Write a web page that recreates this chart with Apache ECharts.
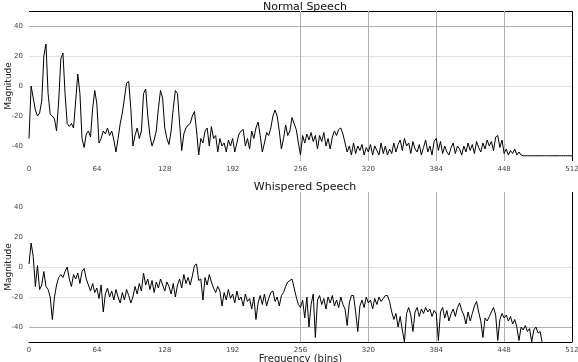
<!DOCTYPE html>
<html>
<head>
<meta charset="utf-8">
<script src="https://cdn.jsdelivr.net/npm/echarts@6/dist/echarts.min.js"></script>
<style>html,body{margin:0;padding:0;background:#fff}#c{width:578px;height:362px}</style>
</head>
<body>
<div id="c"></div>
<script>
// Bin step of the sampled values (x = index * BIN_STEP)
const BIN_STEP = 2;
const xTicks = [0, 64, 128, 192, 256, 320, 384, 448, 512];
const yTicks = [-40, -20, 0, 20, 40];

// Normal speech magnitude, bins 0,2,4,...,512
const normalSpeech = [
-35,0,-8,-16,-20,-18,-10,20,28,-5,-19,-20,-22,-30,-10,18,22,-5,-25,-27,
-25,-28,-10,8,-5,-35,-41,-32,-30,-34,-15,-3,-12,-38,-35,-30,-32,-28,-33,-30,
-36,-44,-35,-25,-18,-8,2,3,-15,-40,-33,-28,-35,-30,-5,-2,-20,-33,-40,-36,
-30,-15,-3,-8,-28,-35,-39,-30,-15,-3,-5,-25,-43,-32,-28,-26,-25,-20,-17,-30,
-46,-35,-38,-30,-28,-40,-27,-35,-33,-44,-35,-40,-38,-44,-36,-40,-35,-44,-38,-32,
-30,-29,-40,-35,-42,-30,-35,-28,-24,-33,-44,-38,-31,-33,-28,-20,-16,-20,-30,-42,
-35,-26,-33,-30,-21,-25,-29,-38,-46,-33,-38,-32,-36,-31,-37,-33,-42,-33,-37,-31,
-40,-35,-42,-34,-30,-33,-29,-28,-32,-38,-44,-40,-46,-38,-45,-40,-43,-39,-46,-41,
-44,-39,-46,-40,-43,-46,-38,-45,-40,-46,-42,-45,-38,-44,-39,-36,-43,-35,-40,-38,
-45,-37,-42,-44,-39,-46,-41,-36,-44,-40,-46,-37,-35,-43,-37,-45,-40,-44,-46,-41,
-38,-45,-40,-42,-46,-40,-44,-38,-43,-39,-45,-37,-41,-44,-38,-42,-36,-40,-37,-43,
-34,-33,-41,-36,-45,-42,-46,-43,-45,-42,-46,-44,-46,-46.5,-46.5,-46.5,-46.5,-46.5,-46.5,-46.5,
-46.5,-46.5,-46.5,-46.5,-46.5,-46.5,-46.5,-46.5,-46.5,-46.5,-46.5,-46.5,-46.5,-46.5,-46.5,-46.5,-46.5
];

// Whispered speech magnitude, bins 0,2,4,...,484
const whisperedSpeech = [
2,16,7,-13,1,-15,-12,-3,-13,-15,-20,-35,-20,-12,-7,-5,-7,-3,0,-8,
-13,-5,-8,-4,-11,-3,-1,-8,-12,-16,-11,-17,-14,-21,-12,-30,-18,-14,-20,-16,
-22,-15,-20,-24,-17,-22,-15,-19,-24,-20,-13,-18,-11,-16,-4,-12,-8,-15,-9,-17,
-10,-14,-8,-12,-16,-10,-13,-18,-11,-20,-12,-8,-14,-5,-11,-7,-12,-6,1,2,
-9,-8,-22,-7,-12,-5,-10,-14,-17,-13,-16,-26,-17,-22,-15,-21,-18,-24,-16,-22,
-20,-26,-18,-23,-21,-28,-20,-35,-24,-19,-25,-18,-26,-21,-17,-16,-23,-20,-26,-19,
-17,-13,-10,-9,-8,-14,-20,-25,-27,-22,-34,-20,-40,-25,-18,-47,-22,-19,-25,-21,
-28,-20,-24,-19,-26,-22,-27,-20,-25,-28,-39,-24,-19,-19,-30,-43,-26,-22,-27,-20,
-24,-22,-28,-21,-25,-20,-23,-21,-19,-19,-23,-30,-35,-31,-40,-33,-42,-50,-31,-27,
-32,-43,-30,-27,-33,-28,-31,-27,-30,-28,-33,-29,-31,-49,-30,-27,-34,-29,-36,-31,
-28,-33,-27,-24,-29,-32,-38,-30,-36,-31,-26,-23,-30,-36,-47,-34,-36,-33,-30,-27,
-32,-49,-35,-31,-34,-32,-36,-33,-38,-35,-40,-49,-40,-42,-39,-43,-41,-50,-42,-40,
-44,-43,-51
];

const toPairs = arr => arr.map((v, i) => [i * BIN_STEP, v]);

const TRANSP = 'rgba(0,0,0,0)';
const LIGHT = '#e3e3e3';
const GRAY = '#b0b0b0';
const BLACK = '#000';
const FONT = 'DejaVu Sans';

const yLabelFmt = v => (yTicks.indexOf(v) >= 0 ? String(v) : '');

function xAxis(gridIndex, withName, axisLineShow) {
  return {
    type: 'value', gridIndex, min: 0, max: 512, interval: 64,
    axisLine: { show: axisLineShow, onZero: false, lineStyle: { color: BLACK, width: 1 } },
    axisTick: { show: false },
    axisLabel: { show: true, fontSize: 7, color: '#444', fontFamily: FONT, margin: 5,
      showMinLabel: true, showMaxLabel: true,
      formatter: v => (xTicks.indexOf(v) >= 0 ? String(v) : '') },
    splitLine: { show: true, lineStyle: { width: 1,
      color: [TRANSP, TRANSP, TRANSP, TRANSP, GRAY, GRAY, GRAY, GRAY, BLACK] } },
    name: withName ? 'Frequency (bins)' : '',
    nameLocation: 'middle', nameGap: 12, nameMoveOverlap: false,
    nameTextStyle: { fontSize: 10, color: '#222', fontFamily: FONT }
  };
}

function yAxis(gridIndex, colors) {
  return {
    type: 'value', gridIndex, min: -50, max: 50, interval: 10,
    axisLine: { show: false }, axisTick: { show: false },
    axisLabel: { fontSize: 7, color: '#444', fontFamily: FONT, margin: 6, formatter: yLabelFmt,
      showMinLabel: true, showMaxLabel: true },
    splitLine: { show: true, lineStyle: { width: 1, color: colors } },
    name: 'Magnitude', nameLocation: 'middle', nameGap: 16, nameMoveOverlap: false,
    nameTextStyle: { fontSize: 9, color: '#222', fontFamily: FONT }
  };
}

const chart = echarts.init(document.getElementById('c'), null, { renderer: 'canvas' });
chart.setOption({
  animation: false,
  backgroundColor: '#fff',
  title: [
    { text: 'Normal Speech', left: 300, top: -3, textAlign: 'center',
      textStyle: { fontSize: 11, fontWeight: 'normal', color: '#111', fontFamily: FONT } },
    { text: 'Whispered Speech', left: 300, top: 177, textAlign: 'center',
      textStyle: { fontSize: 11, fontWeight: 'normal', color: '#111', fontFamily: FONT } }
  ],
  grid: [
    { left: 29, right: 6, top: 11, height: 150, containLabel: false, outerBoundsMode: 'none' },
    { left: 29, right: 6, top: 192, height: 150, containLabel: false, outerBoundsMode: 'none' }
  ],
  xAxis: [xAxis(0, false, false), xAxis(1, true, true)],
  yAxis: [
    yAxis(0, [TRANSP, TRANSP, TRANSP, TRANSP, TRANSP, LIGHT, TRANSP, LIGHT, TRANSP, GRAY, BLACK]),
    yAxis(1, [TRANSP, GRAY, TRANSP, LIGHT, TRANSP, LIGHT, TRANSP, TRANSP, TRANSP, TRANSP, TRANSP])
  ],
  series: [
    { type: 'line', xAxisIndex: 0, yAxisIndex: 0, data: toPairs(normalSpeech),
      showSymbol: false, clip: true, lineStyle: { color: '#000', width: 1 } },
    { type: 'line', xAxisIndex: 1, yAxisIndex: 1, data: toPairs(whisperedSpeech),
      showSymbol: false, clip: true, lineStyle: { color: '#000', width: 1 } }
  ]
});
</script>
</body>
</html>
